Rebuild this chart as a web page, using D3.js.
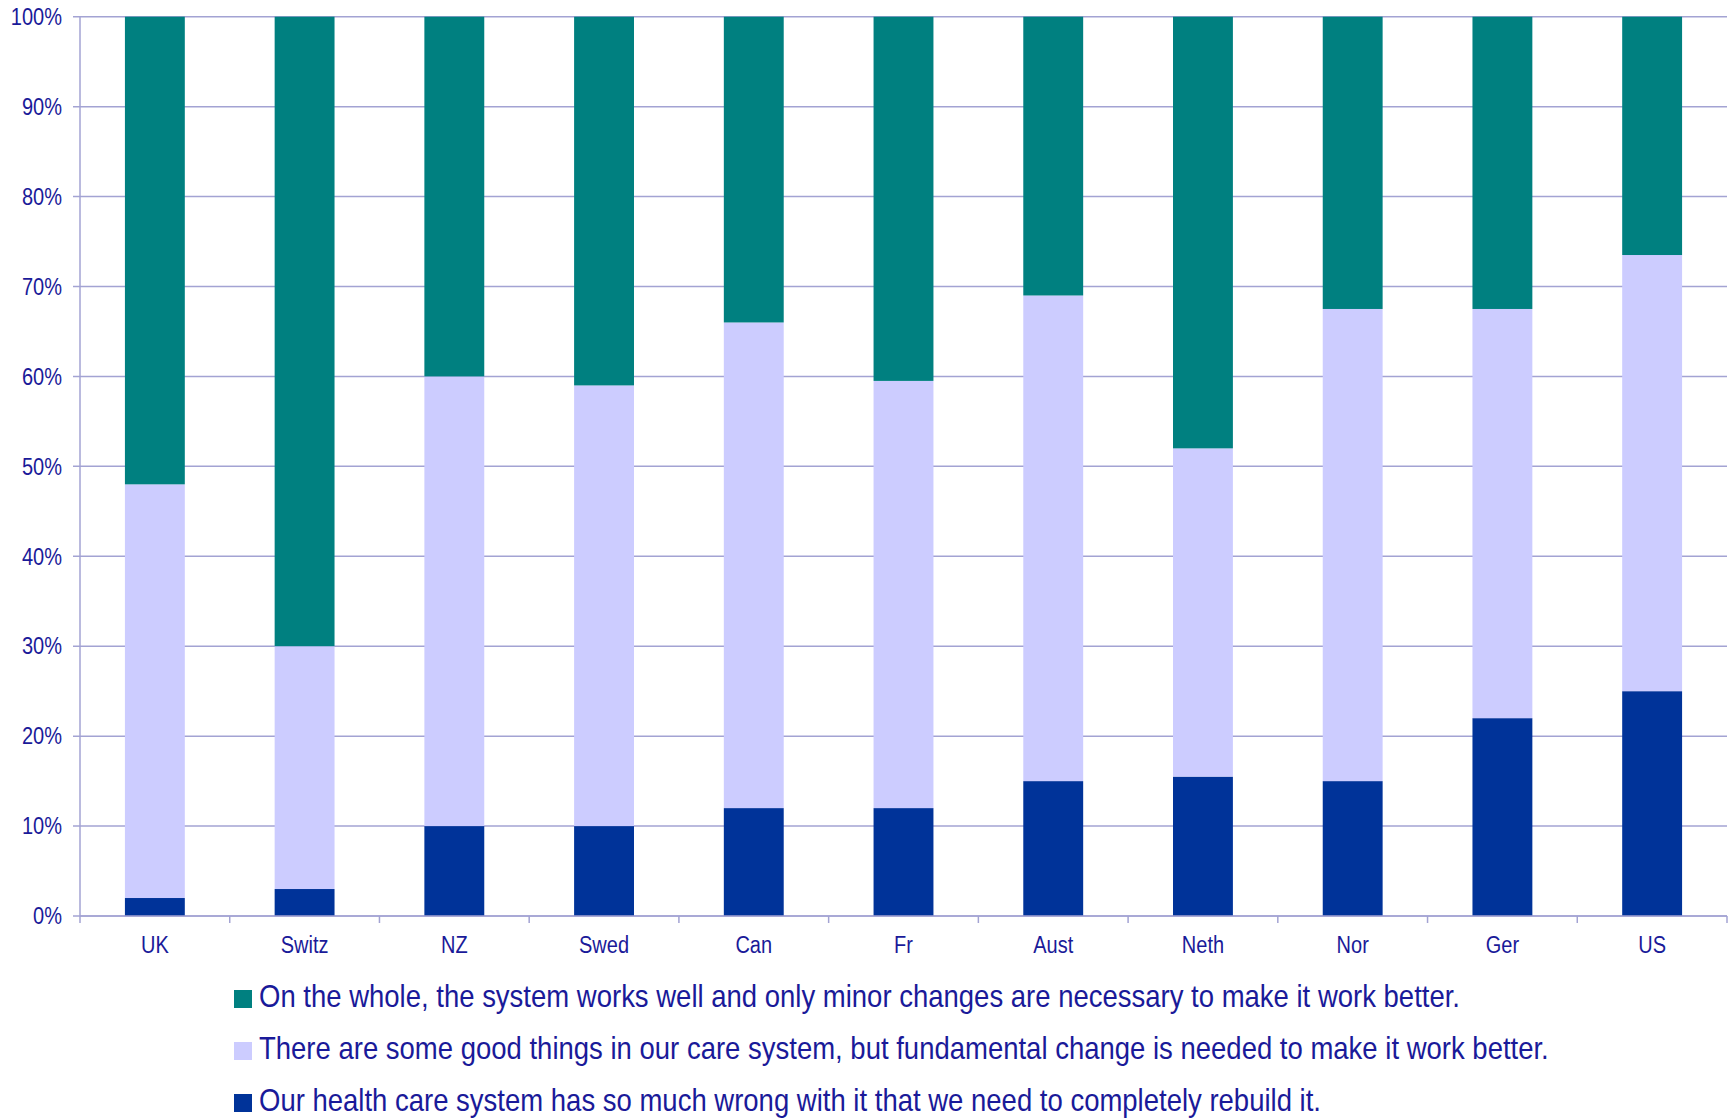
<!DOCTYPE html>
<html>
<head>
<meta charset="utf-8">
<script src="https://cdn.jsdelivr.net/npm/d3@7"></script>
<style>
  html, body { margin: 0; padding: 0; background: #fff; }
  svg { display: block; font-family: "Liberation Sans", Arial, sans-serif; }
  .tick-label, .cat-label, .legend-text { fill: #1a1a99; }
</style>
</head>
<body>
<svg id="chart" width="1732" height="1118"></svg>
<script>
// Stacked 100% bars: views on the health care system by country

const countries = ["UK", "Switz", "NZ", "Swed", "Can", "Fr", "Aust", "Neth", "Nor", "Ger", "US"];

// bottom to top
const rebuild     = [2, 3, 10, 10, 12, 12, 15, 15.5, 15, 22, 25];
const fundamental = [46, 27, 50, 49, 54, 47.5, 54, 36.5, 52.5, 45.5, 48.5];
const minor       = [52, 70, 40, 41, 34, 40.5, 31, 48, 32.5, 32.5, 26.5];

const yTicks = [0, 10, 20, 30, 40, 50, 60, 70, 80, 90, 100];

const seriesKeys = ["rebuild", "fundamental", "minor"];
const seriesColors = { rebuild: "#003399", fundamental: "#ccccff", minor: "#008080" };

// legend order as in the picture (top to bottom)
const legendItems = [
  { key: "minor", label: "On the whole, the system works well and only minor changes are necessary to make it work better." },
  { key: "fundamental", label: "There are some good things in our care system, but fundamental change is needed to make it work better." },
  { key: "rebuild", label: "Our health care system has so much wrong with it that we need to completely rebuild it." },
];

const rows = countries.map((c, i) => ({
  country: c,
  rebuild: rebuild[i],
  fundamental: fundamental[i],
  minor: minor[i],
}));

const svg = d3.select("#chart");
const plot = { left: 80, right: 1727, top: 16.7, bottom: 916 };
const gridColor = "#a3a3d3";
const stretch = 1.15; // text in the original is a bit tall

const x = d3.scaleBand()
  .domain(countries)
  .range([plot.left, plot.right])
  .paddingInner(0.6)
  .paddingOuter(0.3);

const y = d3.scaleLinear().domain([0, 100]).range([plot.bottom, plot.top]);

// gridlines
svg.append("g")
  .selectAll("line")
  .data(yTicks)
  .join("line")
  .attr("x1", plot.left - 7)
  .attr("x2", plot.right)
  .attr("y1", d => y(d))
  .attr("y2", d => y(d))
  .attr("stroke", gridColor)
  .attr("stroke-width", 1.5);

// y tick labels
svg.append("g")
  .selectAll("text")
  .data(yTicks)
  .join("text")
  .attr("class", "tick-label")
  .attr("transform", d => `translate(62,${y(d)}) scale(1,${stretch})`)
  .attr("dy", "0.36em")
  .attr("text-anchor", "end")
  .attr("font-size", 20)
  .text(d => d + "%");

// stacked bars
const stacked = d3.stack().keys(seriesKeys)(rows);

svg.append("g")
  .selectAll("g")
  .data(stacked)
  .join("g")
  .attr("fill", d => seriesColors[d.key])
  .selectAll("rect")
  .data(d => d)
  .join("rect")
  .attr("x", d => x(d.data.country))
  .attr("width", x.bandwidth())
  .attr("y", d => y(d[1]))
  .attr("height", d => y(d[0]) - y(d[1]));

// axes lines
svg.append("line")
  .attr("x1", plot.left).attr("x2", plot.left)
  .attr("y1", plot.top).attr("y2", plot.bottom)
  .attr("stroke", gridColor).attr("stroke-width", 1.5);

svg.append("line")
  .attr("x1", plot.left).attr("x2", plot.right)
  .attr("y1", plot.bottom).attr("y2", plot.bottom)
  .attr("stroke", gridColor).attr("stroke-width", 1.5);

// x ticks at category boundaries
const step = x.step();
const boundaries = d3.range(countries.length + 1).map(i => plot.left + i * step);
svg.append("g")
  .selectAll("line")
  .data(boundaries)
  .join("line")
  .attr("x1", d => d).attr("x2", d => d)
  .attr("y1", plot.bottom).attr("y2", plot.bottom + 7)
  .attr("stroke", gridColor).attr("stroke-width", 1.5);

// category labels
svg.append("g")
  .selectAll("text")
  .data(countries)
  .join("text")
  .attr("class", "cat-label")
  .attr("transform", d => `translate(${x(d) + x.bandwidth() / 2},953) scale(1,${stretch})`)
  .attr("text-anchor", "middle")
  .attr("font-size", 20)
  .text(d => d);

// legend
const legend = svg.append("g").attr("transform", "translate(234, 0)");
const item = legend.selectAll("g")
  .data(legendItems)
  .join("g")
  .attr("transform", (d, i) => `translate(0, ${1007 + i * 52})`);

item.append("rect")
  .attr("x", 0)
  .attr("y", -17)
  .attr("width", 18)
  .attr("height", 18)
  .attr("fill", d => seriesColors[d.key]);

item.append("text")
  .attr("class", "legend-text")
  .attr("transform", `translate(25,0) scale(1,${stretch})`)
  .attr("font-size", 27.5)
  .text(d => d.label);
</script>
</body>
</html>
